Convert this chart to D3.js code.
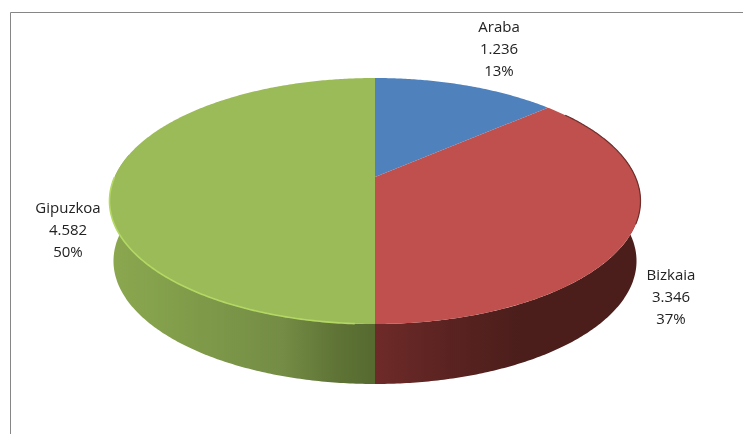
<!DOCTYPE html>
<html><head><meta charset="utf-8">
<script src="https://cdn.jsdelivr.net/npm/d3@7/dist/d3.min.js"></script>
<style>html,body{margin:0;padding:0;background:#fff;overflow:hidden}svg{display:block}</style>
</head><body><svg id="c" width="743" height="434"></svg>
<script>
const categories = ["Araba", "Bizkaia", "Gipuzkoa"];
const values = [1236, 3346, 4582];
const valueLabels = ["1.236", "3.346", "4.582"];
const percentLabels = ["13%", "37%", "50%"];
const topColors = ["#4f81bd", "#c0504d", "#9bbb59"];
const wallStops = [
  [],
  [[0, "#6e2a28"], [0.28, "#5a2321"], [0.55, "#4b1e1b"], [1, "#4b1e1b"]],
  [[0, "#8ba84f"], [0.35, "#7e9a49"], [0.65, "#748c45"], [0.85, "#5f7436"], [1, "#566a30"]]
];
const labelAnchors = [[499, 32], [671, 280], [68, 213]];

const svg = d3.select("#c");
const defs = svg.append("defs");
const blur = defs.append("filter").attr("id", "soft").attr("x", "-5%").attr("y", "-5%").attr("width", "110%").attr("height", "110%");
blur.append("feGaussianBlur").attr("stdDeviation", 0.45);

// frame
svg.append("path").attr("d", d3.line()([[10.5, 434], [10.5, 12.5], [743, 12.5]]))
  .attr("fill", "none").attr("stroke", "#868686").attr("stroke-width", 1);

// Perspective projection of the unit disc (angle clockwise from 12 o'clock)
const cx = 375, cy = 177, ax = 260.4, by = 83.8, k = 0.1951, depth = 60, wallShrink = 0.985;
const proj = (x, y) => { const w = 1 - k * y; return [cx + ax * x / w, (by * y + cy - 0) / w]; };
const rim = a => proj(Math.sin(a), -Math.cos(a));
const wallRim = a => { const p = rim(a); return [cx + (p[0] - cx) * wallShrink, p[1] + depth]; };
const arcPts = (f, a0, a1) => { const n = Math.max(2, Math.ceil((a1 - a0) / 0.01)); return d3.range(n + 1).map(i => f(a0 + (a1 - a0) * i / n)); };
const line = d3.line();

const pie = d3.pie().sort(null).value(d => d)(values);

// side walls (only the front part of the rim, right of 90deg.. left of 270deg)
const frontStart = Math.PI / 2 - 0.2, frontEnd = 3 * Math.PI / 2 + 0.2;
const xs = d3.scaleLinear().domain([0, 1]);
pie.forEach((s, i) => {
  if (!wallStops[i].length) return;
  const a0 = Math.max(s.startAngle, frontStart), a1 = Math.min(s.endAngle, frontEnd);
  if (a1 <= a0) return;
  const top = arcPts(rim, a0, a1), bot = arcPts(wallRim, a0, a1).reverse();
  const ext = d3.extent(top.concat(bot), p => p[0]);
  const id = "wall" + i;
  const g = defs.append("linearGradient").attr("id", id).attr("gradientUnits", "userSpaceOnUse")
    .attr("x1", i === 1 ? ext[0] : ext[0]).attr("x2", ext[1]).attr("y1", 0).attr("y2", 0);
  const stops = i === 2 ? wallStops[i] : wallStops[i];
  stops.forEach(st => g.append("stop").attr("offset", st[0]).attr("stop-color", st[1]));
  svg.append("path").attr("d", line(top.concat(bot)) + "Z").attr("fill", `url(#${id})`);
});

// top faces
pie.forEach((s, i) => {
  const pts = [proj(0, 0)].concat(arcPts(rim, s.startAngle, s.endAngle));
  svg.append("path").attr("d", line(pts) + "Z").attr("fill", topColors[i]);
});

// bevel rims
const greenRim = pie[2];
svg.append("path").attr("d", line(arcPts(rim, Math.PI * 1.02, Math.PI * 1.5)))
  .attr("fill", "none").attr("stroke", "#b4d864").attr("stroke-width", 1.6);
svg.append("path").attr("d", line(arcPts(rim, 0.95, Math.PI * 0.62)))
  .attr("fill", "none").attr("stroke", "#6e2e2c").attr("stroke-width", 1.2);

// labels
categories.forEach((c, i) => {
  const t = svg.append("g").attr("filter", "url(#soft)")
    .attr("font-family", "'Open Sans',sans-serif").attr("font-size", 15).attr("fill", "#222").attr("text-anchor", "middle");
  [c, valueLabels[i], percentLabels[i]].forEach((txt, j) => {
    t.append("text").attr("x", labelAnchors[i][0]).attr("y", labelAnchors[i][1] + j * 22.2).text(txt);
  });
});
</script></body></html>
